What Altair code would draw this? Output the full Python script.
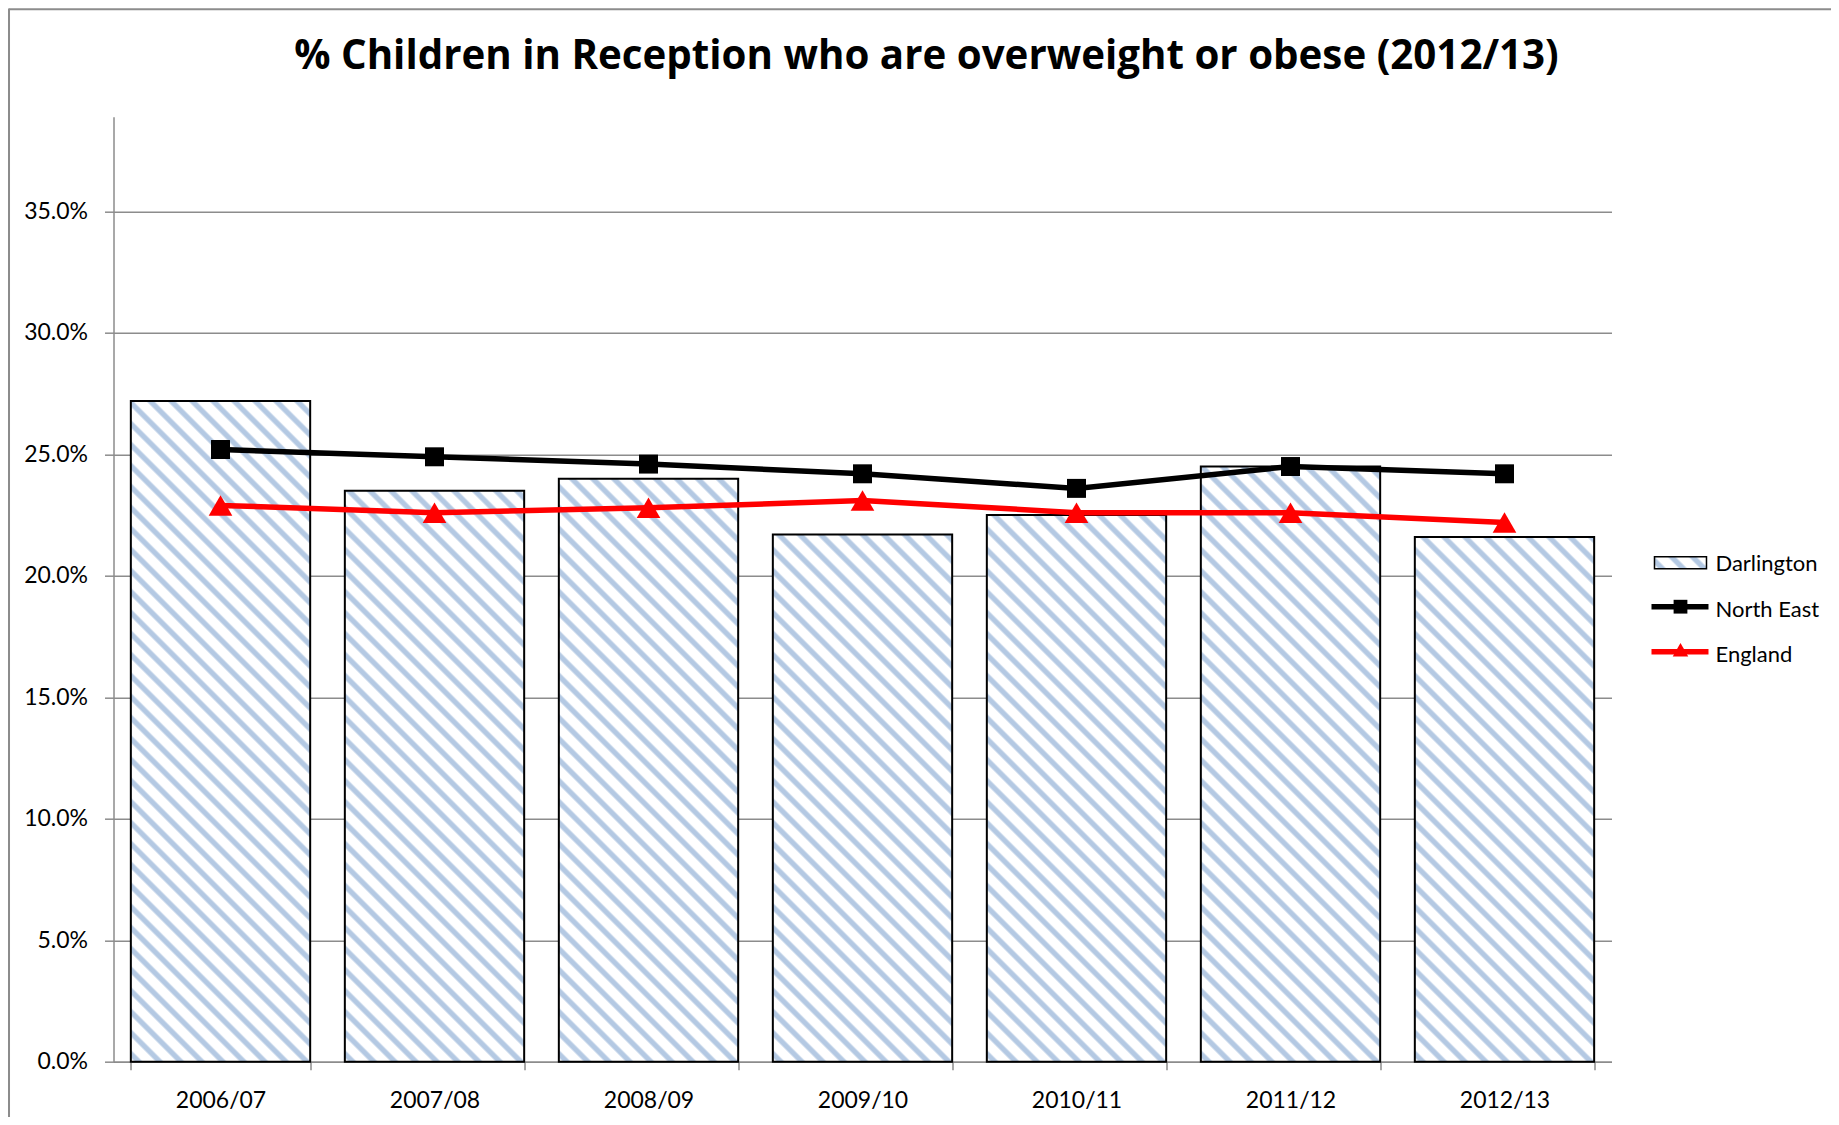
import altair as alt
import numpy as np
import pandas as pd

# ---- data ----
years = ["2006/07", "2007/08", "2008/09", "2009/10", "2010/11", "2011/12", "2012/13"]
darlington = [0.272, 0.235, 0.240, 0.217, 0.225, 0.245, 0.216]
north_east = [0.252, 0.249, 0.246, 0.242, 0.236, 0.245, 0.242]
england = [0.229, 0.226, 0.228, 0.231, 0.226, 0.226, 0.222]

title_text = "% Children in Reception who are overweight or obese (2012/13)"
y_ticks = [0.0, 0.05, 0.10, 0.15, 0.20, 0.25, 0.30, 0.35]

# ---- layout ----
W, H = 1498, 945
YMAX = 0.389
PAD_INNER = 0.162
FONT = "Lato"
GRID = "#8c8c8c"
BLUE = "#b4c9e3"
WHITE = "#ffffff"


def hatch(w, h, period=21.0):
    """Diagonal stripe fill built as a linear gradient for a w x h box."""
    L = w + h
    n = int(np.ceil(L / period)) + 1
    stops = []
    for k in range(n):
        base = k * period
        for frac, col in [(0.0, WHITE), (0.14, WHITE), (0.26, BLUE), (0.50, BLUE), (0.62, WHITE)]:
            off = (base + frac * period) / L
            if off <= 1.0:
                stops.append({"offset": round(off, 5), "color": col})
    s = L / (w * w + h * h)
    return {"gradient": "linear", "x1": 0, "y1": 1, "x2": s * w, "y2": 1 - s * h, "stops": stops}


bar_w = (W / len(years)) * (1 - PAD_INNER)
bars = pd.DataFrame({
    "year": years,
    "value": darlington,
    "grad": [hatch(bar_w, v / YMAX * H) for v in darlington],
})
lines = pd.DataFrame({"year": years, "ne": north_east, "eng": england})

x_enc = alt.X(
    "year:N", sort=years, title=None,
    scale=alt.Scale(paddingInner=PAD_INNER, paddingOuter=PAD_INNER / 2),
    axis=alt.Axis(labelAngle=0, tickBand="extent", tickSize=8, labelPadding=20,
                  domainColor=GRID, tickColor=GRID, domainWidth=1.5, tickWidth=1.5,
                  labelFont=FONT, labelFontSize=23, labelColor="black", grid=False),
)
y_scale = alt.Scale(domain=[0, YMAX], nice=False, zero=True)

bar = alt.Chart(bars).mark_bar(stroke="black", strokeWidth=2).encode(
    x=x_enc,
    y=alt.Y("value:Q", scale=y_scale, stack=None, title=None,
            axis=alt.Axis(values=y_ticks, format=".1%", tickSize=9, labelPadding=17,
                          domainColor=GRID, tickColor=GRID, gridColor=GRID,
                          domainWidth=1.5, tickWidth=1.5, gridWidth=1.5,
                          labelFont=FONT, labelFontSize=23, labelColor="black")),
    fill=alt.Fill("grad:N", scale=None),
)

ne_line = alt.Chart(lines).mark_line(color="black", strokeWidth=5.5).encode(
    x=alt.X("year:N", sort=years), y=alt.Y("ne:Q", scale=y_scale))
ne_pts = alt.Chart(lines).mark_point(shape="square", filled=True, color="black",
                                     size=360, opacity=1).encode(
    x=alt.X("year:N", sort=years), y=alt.Y("ne:Q", scale=y_scale))
en_line = alt.Chart(lines).mark_line(color="#ff0000", strokeWidth=5.5).encode(
    x=alt.X("year:N", sort=years), y=alt.Y("eng:Q", scale=y_scale))
en_pts = alt.Chart(lines).mark_point(shape="triangle-up", filled=True, color="#ff0000",
                                     size=560, opacity=1).encode(
    x=alt.X("year:N", sort=years), y=alt.Y("eng:Q", scale=y_scale))

one = pd.DataFrame({"k": [0]})

# ---- title ----
title = alt.Chart(one).mark_text(
    align="center", baseline="middle", font="Open Sans", fontSize=40.3, fontWeight="bold",
    color="black").encode(x=alt.value(813), y=alt.value(-59.5), text=alt.value(title_text))

# ---- manual legend ----
LX0, LX1 = 1541, 1593
leg_rect = alt.Chart(one).mark_rect(
    fill=hatch(LX1 - LX0, 12, period=21.0), stroke="black", strokeWidth=1.5).encode(
    x=alt.value(LX0), x2=alt.value(LX1), y=alt.value(440), y2=alt.value(452))
leg_ne = alt.Chart(one).mark_rule(color="black", strokeWidth=5.5).encode(
    x=alt.value(LX0 - 3), x2=alt.value(LX1 + 2), y=alt.value(490))
leg_ne_pt = alt.Chart(one).mark_point(
    shape="square", filled=True, color="black", size=190, opacity=1).encode(
    x=alt.value((LX0 + LX1) / 2), y=alt.value(490))
leg_en = alt.Chart(one).mark_rule(color="#ff0000", strokeWidth=5.5).encode(
    x=alt.value(LX0 - 3), x2=alt.value(LX1 + 2), y=alt.value(535))
leg_en_pt = alt.Chart(one).mark_point(
    shape="triangle-up", filled=True, color="#ff0000", size=240, opacity=1).encode(
    x=alt.value((LX0 + LX1) / 2), y=alt.value(533))
leg_text = alt.Chart(one).mark_text(
    align="left", baseline="middle", font=FONT, fontSize=22, color="black")
leg_t1 = leg_text.encode(x=alt.value(1602), y=alt.value(447), text=alt.value("Darlington"))
leg_t2 = leg_text.encode(x=alt.value(1602), y=alt.value(493), text=alt.value("North East"))
leg_t3 = leg_text.encode(x=alt.value(1602), y=alt.value(538), text=alt.value("England"))

# ---- chart-area border (top and left edges visible) ----
border_top = alt.Chart(one).mark_rule(color="#8c8c8c", strokeWidth=2).encode(
    x=alt.value(-105), x2=alt.value(W + 220), y=alt.value(-107.5))
border_left = alt.Chart(one).mark_rule(color="#8c8c8c", strokeWidth=2).encode(
    x=alt.value(-104.5), y=alt.value(-108), y2=alt.value(H + 60))

chart = alt.layer(
    bar, ne_line, ne_pts, en_line, en_pts,
    leg_rect, leg_ne, leg_ne_pt, leg_en, leg_en_pt, leg_t1, leg_t2, leg_t3,
    title, border_top, border_left,
).properties(
    width=W, height=H,
    background="white",
    autosize=alt.AutoSizeParams(type="none"),
    padding={"left": 105.5, "top": 108.7, "right": 219, "bottom": 55},
).configure_view(strokeWidth=0, stroke="transparent")

chart.save("out.html", embed_options={"renderer": "svg", "actions": False})
